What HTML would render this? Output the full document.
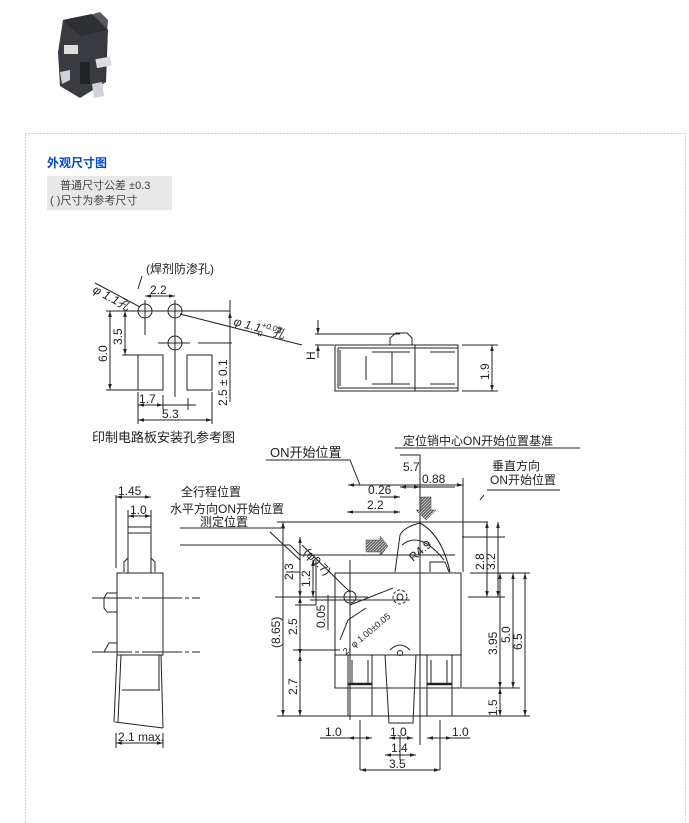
<!DOCTYPE html>
<html><head><meta charset="utf-8"><style>
html,body{margin:0;padding:0;background:#fff;width:689px;height:823px;overflow:hidden}
svg{display:block}
text{font-family:"Liberation Sans","Noto Sans CJK SC",sans-serif;fill:#222}
.z{font-family:"Liberation Sans","Noto Sans CJK SC",sans-serif}
</style></head><body>
<svg width="689" height="823" viewBox="0 0 689 823" xmlns="http://www.w3.org/2000/svg">
<defs>
<marker id="a" viewBox="0 0 10 10" refX="10" refY="5" markerWidth="6" markerHeight="6" orient="auto-start-reverse"><path d="M0,2 L10,5 L0,8 z" fill="#222"/></marker>
<pattern id="h" width="3" height="3" patternUnits="userSpaceOnUse"><rect width="3" height="3" fill="#666"/><path d="M0,3 L3,0" stroke="#fff" stroke-width="0.6"/></pattern>
</defs>
<!-- product photo -->
<g>
<polygon points="93,14 100,12 108,20 107,34 96,34" fill="#5a5a5c"/>
<polygon points="63,20 92,14 108,30 106,82 80,98 60,86 58,52" fill="#3a3b40"/>
<polygon points="63,20 92,14 108,30 80,36" fill="#2f3034"/>
<rect x="64" y="45" width="14" height="9" fill="#ddd"/>
<rect x="96" y="58" width="15" height="9" fill="#ddd" transform="rotate(-10 103 62)"/>
<polygon points="60,72 70,70 70,80 62,84" fill="#cfd3d6"/>
<polygon points="92,84 102,82 104,96 94,98" fill="#cfd3d6"/>
<rect x="80" y="62" width="10" height="22" fill="#222327"/>
</g>
<!-- dotted frame -->
<rect x="25.5" y="133.5" width="660" height="700" fill="none" stroke="#aaa" stroke-dasharray="1,2"/>
<text x="47" y="167" font-size="12" font-weight="bold" style="fill:#0645c8">外观尺寸图</text>
<rect x="47" y="176" width="125" height="34" fill="#e8e8e8"/>
<text x="60" y="189" font-size="11" style="fill:#444">普通尺寸公差 ±0.3</text>
<text x="50" y="204" font-size="11" style="fill:#444">( )尺寸为参考尺寸</text>

<g stroke="#222" stroke-width="1" fill="none">
<!-- PCB pattern -->
<circle cx="145" cy="311" r="7"/><circle cx="175" cy="311" r="7"/><circle cx="175" cy="343" r="7"/>
<rect x="138" y="355" width="25" height="35"/><rect x="187" y="355" width="25" height="35"/>
<path d="M106,311 L230,311 M145,300 L145,335 M175,300 L175,397 M158,343 L190,343 M198,343 L232,343 M122,355 L138,355 M106,390 L138,390 M230,300 L230,402 M138,392 L138,424 M212,392 L212,424 M163,395 L163,410 M188,398 L188,410"/>
<line x1="110" y1="311" x2="110" y2="390" marker-start="url(#a)" marker-end="url(#a)"/>
<line x1="125" y1="311" x2="125" y2="355" marker-start="url(#a)" marker-end="url(#a)"/>
<line x1="145" y1="296" x2="175" y2="296" marker-start="url(#a)" marker-end="url(#a)"/>
<line x1="138" y1="405" x2="163" y2="405" marker-start="url(#a)" marker-end="url(#a)"/>
<line x1="163" y1="405" x2="196" y2="405"/>
<line x1="138" y1="420" x2="212" y2="420" marker-start="url(#a)" marker-end="url(#a)"/>
<line x1="230" y1="343" x2="230" y2="312" marker-end="url(#a)"/>
<path d="M95,283 L140,307 M180,314 L302,345 M142,276 L138,289"/>
<!-- side view small -->
<rect x="335" y="345" width="123" height="46"/>
<path d="M338,348 L458,348 M338,388 L458,388 M338,348 L338,388 M340,350 L340,386 M415,345 L415,391 M415,348 L458,348 M430,352 L455,352 M430,384 L455,384 M372,352 L410,352 M372,384 L410,384 M392,352 L392,384 M366,356 L366,380"/>
<path d="M390,345 L390,338 L396,333 L407,333 L412,338 L412,345"/>
<path d="M315,334 L400,334 M315,345 L334,345 M318,320 L318,334 M318,345 L318,358 M462,345 L498,345 M462,391 L498,391"/>
<line x1="318" y1="326" x2="318" y2="334" marker-end="url(#a)"/>
<line x1="318" y1="354" x2="318" y2="345" marker-end="url(#a)"/>
<line x1="492" y1="345" x2="492" y2="391" marker-start="url(#a)" marker-end="url(#a)"/>
<!-- left side view -->
<rect x="117" y="573" width="46" height="82"/>
<rect x="128" y="527" width="23" height="46"/>
<path d="M128,533 L150,533 M124,572 L124,562 L128,558 M155,572 L155,562 L151,558 M117,593 L107,593 L104,598 L104,608 L107,612 L117,612 M117,643 L109,643 L104,652 L117,652"/>
<path d="M92,598 L200,598 M92,652 L200,652" stroke-dasharray="40,3,4,3"/>
<path d="M117,655 L114,722 M121,655 L118,722 M161,655 L163,728 M122,690 L160,690 M115,722 L163,728 M159,655 L159,690 M116,495 L116,568 M151,510 L151,527 M128,510 L128,527 M116,733 L116,748 M163,733 L163,748"/>
<line x1="116" y1="497" x2="151" y2="497" marker-start="url(#a)" marker-end="url(#a)"/>
<line x1="128" y1="516" x2="151" y2="516" marker-start="url(#a)" marker-end="url(#a)"/>
<line x1="116" y1="743" x2="163" y2="743" marker-start="url(#a)" marker-end="url(#a)"/>
<!-- main front view -->
<rect x="335" y="573" width="126" height="115"/>
<path d="M395,572 L400,535 Q404,527 420,523 Q442,535 450,572 M402,545 Q420,530 444,560 M430,572 L430,562 L445,562 L449,572"/>
<path d="M335,655 L461,655 M348,655 L348,716 L372,716 L372,655 M352,660 L352,684 L368,684 L368,660 M385,655 L389,723 L413,723 L416,655 M427,655 L427,716 L452,716 L452,655 M431,660 L431,684 L447,684 L447,660"/>
<path d="M348,684 L372,684 M427,684 L452,684" stroke-width="2.5"/>
<circle cx="350" cy="597" r="6"/><circle cx="400" cy="597" r="7" stroke-dasharray="3,2"/><circle cx="400" cy="597" r="3"/>
<path d="M390,650 Q400,640 410,650" /><circle cx="400" cy="653" r="2.5"/>
<path d="M400,455 L420,455 L420,745 M350,560 L350,720 M360,720 L360,770 M440,720 L440,770 M400,735 L400,760"/>
<path d="M275,597 L368,597 M286,572 L300,572 M300,555 L455,555 M277,522 L488,522 M277,716 L530,716 M316,560 L316,605 M295,605 L316,605 M462,688 L520,688 M468,597 L505,597 M462,537 L505,537"/>
<path d="M350,605 L393,588 M366,608 L348,620 L340,640 M293,650 L340,650 M270,532 L300,560 M302,545 L350,592 M310,600 L410,600"/>
<line x1="283" y1="522" x2="283" y2="716" marker-start="url(#a)" marker-end="url(#a)"/>
<line x1="300" y1="537" x2="300" y2="597" marker-start="url(#a)" marker-end="url(#a)"/>
<line x1="300" y1="597" x2="300" y2="655" marker-start="url(#a)" marker-end="url(#a)"/>
<line x1="300" y1="655" x2="300" y2="716" marker-start="url(#a)" marker-end="url(#a)"/>
<line x1="313" y1="560" x2="313" y2="597" marker-start="url(#a)" marker-end="url(#a)"/>
<line x1="328" y1="595" x2="328" y2="630" />
<line x1="348" y1="485" x2="463" y2="485" marker-start="url(#a)" marker-end="url(#a)"/>
<line x1="347" y1="512" x2="400" y2="512" marker-start="url(#a)" marker-end="url(#a)"/>
<line x1="380" y1="497" x2="400" y2="497" marker-end="url(#a)"/>
<line x1="400" y1="487" x2="420" y2="487" marker-start="url(#a)" marker-end="url(#a)"/>
<line x1="463" y1="478" x2="463" y2="572"/>
<line x1="420" y1="487" x2="455" y2="487"/>
<line x1="487" y1="522" x2="487" y2="597" marker-start="url(#a)" marker-end="url(#a)"/>
<line x1="498" y1="522" x2="498" y2="597" marker-start="url(#a)" marker-end="url(#a)"/>
<line x1="500" y1="573" x2="500" y2="688" marker-start="url(#a)" marker-end="url(#a)"/>
<line x1="513" y1="573" x2="513" y2="688" marker-start="url(#a)" marker-end="url(#a)"/>
<line x1="525" y1="573" x2="525" y2="716" marker-start="url(#a)" marker-end="url(#a)"/>
<line x1="500" y1="688" x2="500" y2="716" marker-start="url(#a)" marker-end="url(#a)"/>
<line x1="470" y1="573" x2="530" y2="573"/>
<line x1="348" y1="738" x2="372" y2="738" marker-start="url(#a)" marker-end="url(#a)"/>
<line x1="389" y1="738" x2="413" y2="738" marker-start="url(#a)" marker-end="url(#a)"/>
<line x1="427" y1="738" x2="452" y2="738" marker-start="url(#a)" marker-end="url(#a)"/>
<line x1="385" y1="755" x2="416" y2="755" marker-start="url(#a)" marker-end="url(#a)"/>
<line x1="360" y1="770" x2="440" y2="770" marker-start="url(#a)" marker-end="url(#a)"/>
<path d="M320,738 L348,738 M452,738 L470,738 M266,460 L350,460 L360,485 M395,448 L580,448 M484,495 L480,500 M487,490 L560,490 M180,528 L285,528 M180,545 L290,545 L300,555"/>
</g>
<polygon points="366,540 380,540 380,536 388,546 380,556 380,552 366,552" fill="url(#h)" stroke="#444" stroke-width="0.5"/>
<polygon points="421,497 431,497 431,510 436,510 426,520 416,510 421,510" fill="url(#h)" stroke="#444" stroke-width="0.5"/>

<g font-size="12">
<text x="146" y="273" class="z">(焊剂防渗孔)</text>
<text x="92" y="292" transform="rotate(28 92 292)" font-style="italic">φ 1.1孔</text>
<text x="150" y="294">2.2</text>
<text x="233" y="325" transform="rotate(15 233 325)" font-style="italic">φ 1.1<tspan font-size="8" dy="-5">+0.05</tspan><tspan font-size="8" dx="-22" dy="9">0</tspan><tspan dx="10" dy="-4">孔</tspan></text>
<text x="107" y="362" transform="rotate(-90 107 362)">6.0</text>
<text x="122" y="345" transform="rotate(-90 122 345)">3.5</text>
<text x="227" y="406" transform="rotate(-90 227 406)">2.5 ± 0.1</text>
<text x="139" y="403">1.7</text>
<text x="162" y="418">5.3</text>
<text x="92" y="442" font-size="13">印制电路板安装孔参考图</text>
<text x="315" y="360" transform="rotate(-90 315 360)">H</text>
<text x="489" y="380" transform="rotate(-90 489 380)">1.9</text>
<text x="403" y="445">定位销中心ON开始位置基准</text>
<text x="270" y="457" font-size="13">ON开始位置</text>
<text x="403" y="471">5.7</text>
<text x="368" y="494">0.26</text>
<text x="422" y="483">0.88</text>
<text x="367" y="509">2.2</text>
<text x="492" y="470">垂直方向</text>
<text x="490" y="484">ON开始位置</text>
<text x="181" y="496">全行程位置</text>
<text x="170" y="513">水平方向ON开始位置</text>
<text x="200" y="526">测定位置</text>
<text x="118" y="495">1.45</text>
<text x="130" y="514">1.0</text>
<text x="118" y="741">2.1 max.</text>
<text x="303" y="553" transform="rotate(45 303 553)">(φ0.7)</text>
<text x="413" y="562" transform="rotate(-40 413 562)">R4.9</text>
<text x="293" y="580" transform="rotate(-90 293 580)">2.3</text>
<text x="310" y="587" transform="rotate(-90 310 587)">1.2</text>
<text x="325" y="628" transform="rotate(-90 325 628)">0.05</text>
<text x="297" y="635" transform="rotate(-90 297 635)">2.5</text>
<text x="280" y="648" transform="rotate(-90 280 648)">(8.65)</text>
<text x="297" y="695" transform="rotate(-90 297 695)">2.7</text>
<text x="346" y="655" font-size="9" transform="rotate(-40 346 655)">2- φ 1.00±0.05</text>
<text x="484" y="570" transform="rotate(-90 484 570)">2.8</text>
<text x="495" y="570" transform="rotate(-90 495 570)">3.2</text>
<text x="497" y="655" transform="rotate(-90 497 655)">3.95</text>
<text x="510" y="643" transform="rotate(-90 510 643)">5.0</text>
<text x="522" y="650" transform="rotate(-90 522 650)">6.5</text>
<text x="497" y="716" transform="rotate(-90 497 716)">1.5</text>
<text x="325" y="736">1.0</text>
<text x="390" y="736">1.0</text>
<text x="452" y="736">1.0</text>
<text x="391" y="752">1.4</text>
<text x="389" y="768">3.5</text>
</g>
</svg>
</body></html>
